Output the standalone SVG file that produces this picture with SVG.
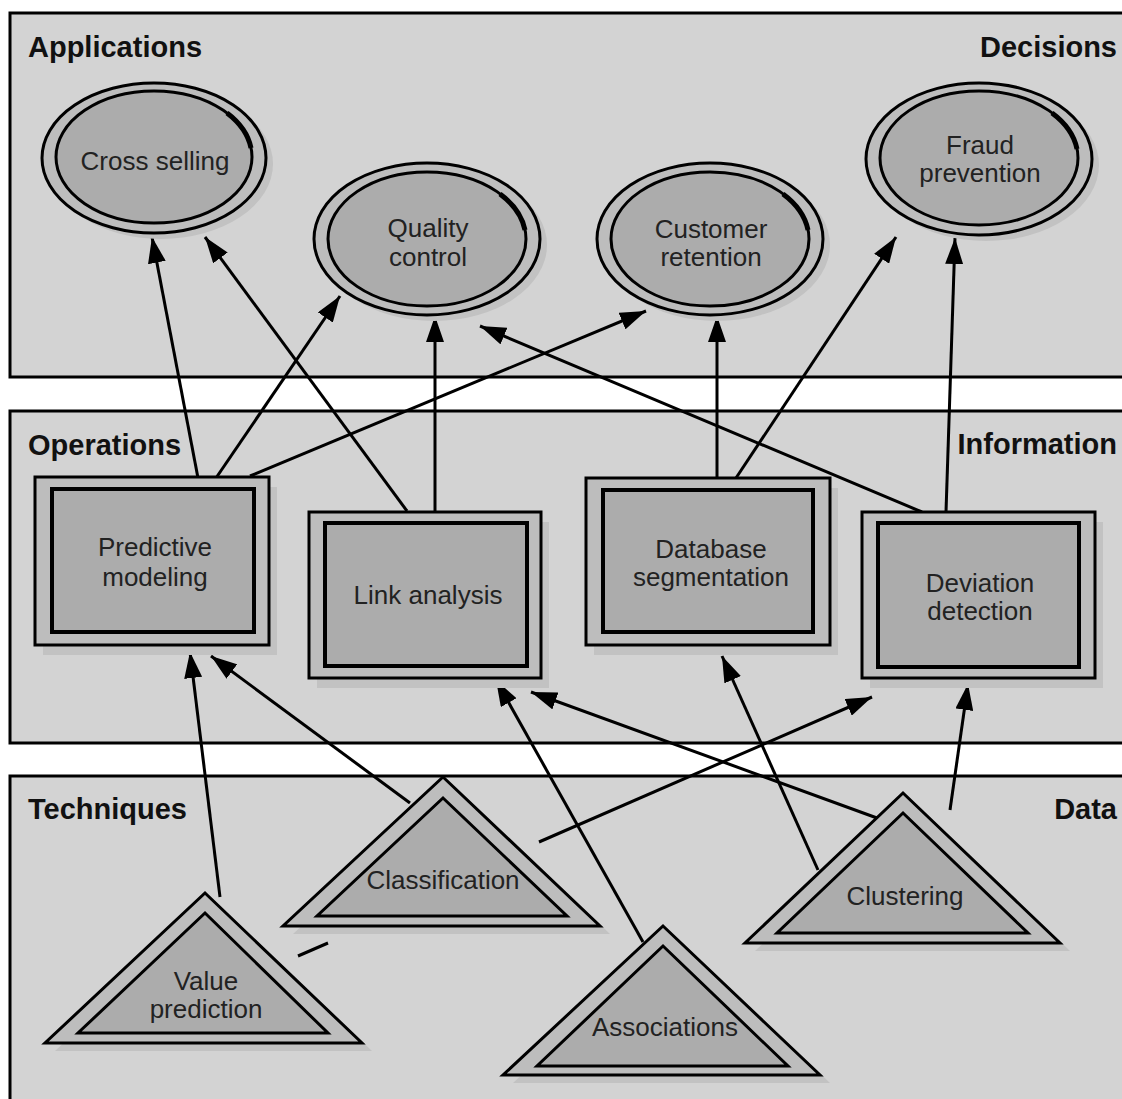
<svg xmlns="http://www.w3.org/2000/svg" width="1122" height="1099" viewBox="0 0 1122 1099">
<style>
.panel{fill:#d3d3d3;stroke:#000;stroke-width:3}
.plabel{font-family:"Liberation Sans",Arial,sans-serif;font-size:29px;font-weight:bold;fill:#111}
.shadow{fill:#c2c2c2;stroke:none}
.outer{fill:#bdbdbd;stroke:#000;stroke-width:3}
.inner{fill:#acacac;stroke:#000;stroke-width:3}
.innerR{fill:#acacac;stroke:#000;stroke-width:4}
.hl{fill:none;stroke:#000;stroke-width:5}
.t{font-family:"Liberation Sans",Arial,sans-serif;font-size:26px;fill:#222;text-anchor:middle}
.c{stroke:#000;stroke-width:3;fill:none;marker-end:url(#ah)}
</style>
<defs>
<marker id="ah" viewBox="0 0 26 18" refX="26" refY="9" markerWidth="26" markerHeight="18" markerUnits="userSpaceOnUse" orient="auto">
<path d="M0,0 L26,9 L0,18 z" fill="#000"/>
</marker>
</defs>
<rect width="1122" height="1099" fill="#fff"/>
<g id="panels">
<rect class="panel" x="10" y="13" width="1125" height="364"/>
<rect class="panel" x="10" y="411" width="1125" height="332"/>
<rect class="panel" x="10" y="776" width="1125" height="340"/>
<text class="plabel" x="28" y="57">Applications</text>
<text class="plabel" x="1117" y="57" text-anchor="end">Decisions</text>
<text class="plabel" x="28" y="455">Operations</text>
<text class="plabel" x="1117" y="454" text-anchor="end">Information</text>
<text class="plabel" x="28" y="819">Techniques</text>
<text class="plabel" x="1117" y="819" text-anchor="end">Data</text>
</g>
<g id="connectors">
<line class="c" x1="198" y1="478" x2="152" y2="237"/>
<line class="c" x1="216" y1="478" x2="340" y2="296"/>
<line class="c" x1="250" y1="476" x2="646" y2="311"/>
<line class="c" x1="407" y1="511" x2="205" y2="237"/>
<line class="c" x1="435" y1="511" x2="435" y2="316"/>
<line class="c" x1="717" y1="478" x2="717" y2="316"/>
<line class="c" x1="736" y1="478" x2="896" y2="237"/>
<line class="c" x1="922" y1="512" x2="480" y2="326"/>
<line class="c" x1="946" y1="512" x2="955" y2="238"/>
<line class="c" x1="220" y1="897" x2="190" y2="652"/>
<line class="c" x1="410" y1="803" x2="211" y2="656"/>
<line class="c" x1="539" y1="842" x2="872" y2="697"/>
<line class="c" x1="643" y1="942" x2="496" y2="680"/>
<line class="c" x1="877" y1="818" x2="531" y2="692"/>
<line class="c" x1="818" y1="870" x2="722" y2="656"/>
<line class="c" x1="950" y1="810" x2="968" y2="684"/>
<line x1="298" y1="956" x2="328" y2="943" stroke="#000" stroke-width="3"/>
</g>
<g id="cross-selling">
<ellipse class="shadow" cx="161" cy="164" rx="112" ry="75"/>
<ellipse class="outer" cx="154" cy="158" rx="112" ry="75"/>
<ellipse class="inner" cx="154" cy="157" rx="98" ry="66"/>
<path class="hl" d="M227,113 A98,66 0 0 1 251,148"/>
<text class="t" x="155" y="170">Cross selling</text>
</g>
<g id="quality-control">
<ellipse class="shadow" cx="434" cy="245" rx="113" ry="76"/>
<ellipse class="outer" cx="427" cy="239" rx="113" ry="76"/>
<ellipse class="inner" cx="427" cy="239" rx="99" ry="67"/>
<path class="hl" d="M500,194 A99,67 0 0 1 525,230"/>
<text class="t" x="428" y="237">Quality</text>
<text class="t" x="428" y="266">control</text>
</g>
<g id="customer-retention">
<ellipse class="shadow" cx="717" cy="245" rx="113" ry="76"/>
<ellipse class="outer" cx="710" cy="239" rx="113" ry="76"/>
<ellipse class="inner" cx="710" cy="239" rx="99" ry="67"/>
<path class="hl" d="M783,194 A99,67 0 0 1 808,230"/>
<text class="t" x="711" y="238">Customer</text>
<text class="t" x="711" y="266">retention</text>
</g>
<g id="fraud-prevention">
<ellipse class="shadow" cx="986" cy="165" rx="113" ry="76"/>
<ellipse class="outer" cx="979" cy="159" rx="113" ry="76"/>
<ellipse class="inner" cx="979" cy="158" rx="99" ry="67"/>
<path class="hl" d="M1052,113 A99,67 0 0 1 1077,149"/>
<text class="t" x="980" y="154">Fraud</text>
<text class="t" x="980" y="182">prevention</text>
</g>
<g id="predictive-modeling">
<rect class="shadow" x="43" y="487" width="234" height="168"/>
<rect class="outer" x="35" y="477" width="234" height="168"/>
<rect class="innerR" x="52" y="489" width="202" height="143"/>
<text class="t" x="155" y="556">Predictive</text>
<text class="t" x="155" y="586">modeling</text>
</g>
<g id="link-analysis">
<rect class="shadow" x="317" y="522" width="232" height="166"/>
<rect class="outer" x="309" y="512" width="232" height="166"/>
<rect class="innerR" x="325" y="523" width="202" height="143"/>
<text class="t" x="428" y="604">Link analysis</text>
</g>
<g id="database-segmentation">
<rect class="shadow" x="594" y="488" width="244" height="167"/>
<rect class="outer" x="586" y="478" width="244" height="167"/>
<rect class="innerR" x="603" y="490" width="210" height="142"/>
<text class="t" x="711" y="558">Database</text>
<text class="t" x="711" y="586">segmentation</text>
</g>
<g id="deviation-detection">
<rect class="shadow" x="870" y="522" width="233" height="166"/>
<rect class="outer" x="862" y="512" width="233" height="166"/>
<rect class="innerR" x="878" y="523" width="201" height="144"/>
<text class="t" x="980" y="592">Deviation</text>
<text class="t" x="980" y="620">detection</text>
</g>
<g id="classification">
<polygon class="shadow" points="453,785 610,934 293,934"/>
<polygon class="outer" points="443,777 600,926 283,926"/>
<polygon class="inner" points="443,798 567,916 317,916"/>
<text class="t" x="443" y="889">Classification</text>
</g>
<g id="value-prediction">
<polygon class="shadow" points="215,901 372,1051 55,1051"/>
<polygon class="outer" points="205,893 362,1043 45,1043"/>
<polygon class="inner" points="205,913 328,1033 78,1033"/>
<text class="t" x="206" y="990">Value</text>
<text class="t" x="206" y="1018">prediction</text>
</g>
<g id="associations">
<polygon class="shadow" points="673,934 830,1083 513,1083"/>
<polygon class="outer" points="663,926 820,1075 503,1075"/>
<polygon class="inner" points="663,946 788,1066 537,1066"/>
<text class="t" x="665" y="1036">Associations</text>
</g>
<g id="clustering">
<polygon class="shadow" points="913,801 1070,951 755,951"/>
<polygon class="outer" points="903,793 1060,943 745,943"/>
<polygon class="inner" points="903,813 1028,933 777,933"/>
<text class="t" x="905" y="905">Clustering</text>
</g>
</svg>
